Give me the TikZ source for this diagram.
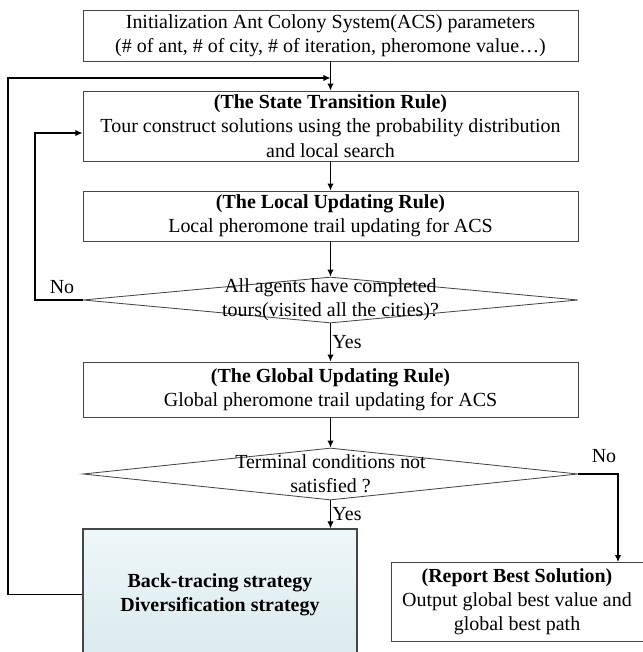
\documentclass[tikz,border=0pt]{standalone}
\usepackage{fontspec}
\setmainfont{Liberation Serif}
\usetikzlibrary{arrows.meta,shapes.geometric,calc}
\definecolor{acsline}{RGB}{70,70,70}
\definecolor{acstop}{RGB}{238,247,249}
\definecolor{acsbot}{RGB}{218,234,237}
\newcommand\acsfont{\fontsize{14.2}{17.2}\selectfont}

\begin{document}
\begin{tikzpicture}[x=0.025cm,y=-0.025cm,
  proc/.style={rectangle, draw=acsline, line width=0.6pt, fill=white,
    minimum width=12.375cm, align=center, inner sep=2pt, font=\acsfont},
  cond/.style={diamond, draw=acsline, line width=0.6pt,
    minimum width=12.375cm, inner sep=0pt},
  ctext/.style={align=center, font=\acsfont, inner sep=0pt},
  lbl/.style={font=\acsfont, inner sep=1pt},
  arr/.style={-{Latex[length=5pt,width=4.5pt]}, line width=0.8pt}
]
  \useasboundingbox (0,0) rectangle (643,652);

  % main column
  \node[proc, minimum height=1.275cm] (init) at (330.5,35.5)
    {Initialization Ant Colony System(ACS) parameters\\
     (\# of ant, \# of city, \# of iteration, pheromone value\ldots)};
  \node[proc, minimum height=1.75cm] (st) at (330.5,126)
    {\textbf{(The State Transition Rule)}\\
     Tour construct solutions using the probability distribution\\
     and local search};
  \node[proc, minimum height=1.25cm] (lu) at (330.5,216)
    {\textbf{(The Local Updating Rule)}\\
     Local pheromone trail updating for ACS};
  \node[cond, minimum height=1.15cm] (d1) at (330.5,300) {};
  \node[ctext] (d1t) at (d1) {All agents have completed\\tours(visited all the cities)?};
  \node[proc, minimum height=1.375cm] (gu) at (330.5,389.5)
    {\textbf{(The Global Updating Rule)}\\
     Global pheromone trail updating for ACS};
  \node[cond, minimum height=1.3cm] (d2) at (330.5,474) {};
  \node[ctext] (d2t) at (d2) {Terminal conditions not\\satisfied ?};

  % bottom boxes
  \node[rectangle, draw=acsline, line width=0.9pt, top color=acstop,
    bottom color=acsbot, minimum width=6.85cm, minimum height=3.275cm,
    align=center, font=\acsfont\bfseries] (bt) at (220,594.5)
    {Back-tracing strategy\\Diversification strategy};
  \node[proc, minimum width=6.3cm, minimum height=1.975cm] (rep) at (517,602)
    {\textbf{(Report Best Solution)}\\
     Output global best value and\\global best path};

  % loop points
  \coordinate (loopL) at (8,78);
  \coordinate (loopT) at (330.5,78);
  \coordinate (loopI) at (35,133);
  \coordinate (loopR) at (618,474);

  % connectors
  \draw[arr] (init) -- (st);
  \draw[arr] (st) -- (lu);
  \draw[arr] (lu) -- (d1.north);
  \draw[arr] (d1.south) -- node[lbl, right] (yes1) {Yes} (gu);
  \draw[arr] (gu) -- (d2.north);
  \draw[arr] (d2.south) -- node[lbl, right] (yes2) {Yes} (d2.south |- bt.north);
  \draw[arr] (d1.west) -| (loopI) -- (loopI -| st.west);
  \draw[arr] (bt.west) -| (loopL) -- (loopT);
  \draw[arr] (d2.east) -- (loopR) -- (loopR |- rep.north);
  \node[lbl] (no1) at (62,287) {No};
  \node[lbl] (no2) at (604,456) {No};
\end{tikzpicture}
\end{document}
